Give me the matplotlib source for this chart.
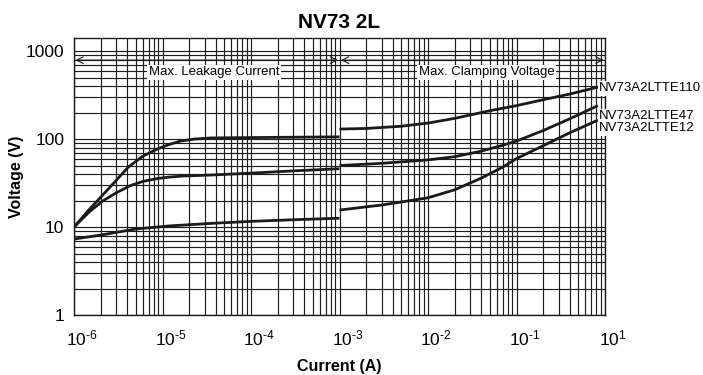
import matplotlib
matplotlib.use("Agg")
import matplotlib.pyplot as plt
import matplotlib.transforms as mtransforms

plt.rcParams['font.family'] = ['Liberation Sans', 'DejaVu Sans']
plt.rcParams['mathtext.fontset'] = 'custom'
plt.rcParams['mathtext.rm'] = 'Liberation Sans'
plt.rcParams['mathtext.it'] = 'Liberation Sans:italic'
plt.rcParams['mathtext.bf'] = 'Liberation Sans:bold'

# Data (current in A, voltage in V)
series_names = ['NV73A2LTTE110', 'NV73A2LTTE47', 'NV73A2LTTE12']

# leakage region (1 uA .. 1 mA)
i_leak_110 = [1e-6, 1.5e-6, 2.1e-6, 3e-6, 4.1e-6, 6e-6, 8.9e-6, 1.2e-5, 1.6e-5,
              2.3e-5, 3.5e-5, 1e-4, 3e-4, 1e-3]
v_leak_110 = [10, 16, 23, 34, 48, 64, 78, 87, 95, 100, 103, 104, 105, 106]
i_leak_47 = [1e-6, 1.5e-6, 2.1e-6, 3e-6, 4.3e-6, 6e-6, 8.9e-6, 1.2e-5, 1.7e-5,
             3.5e-5, 1e-4, 3e-4, 1e-3]
v_leak_47 = [10, 15, 19.7, 24.5, 29.5, 33, 35.7, 37, 38, 39, 41, 43.5, 46]
i_leak_12 = [1e-6, 2e-6, 5e-6, 1.2e-5, 3.5e-5, 1e-4, 3e-4, 1e-3]
v_leak_12 = [7.3, 8.1, 9.5, 10.3, 11.0, 11.6, 12.1, 12.6]

# clamping region (1 mA .. ~1 A)
i_clamp_110 = [1e-3, 2e-3, 5e-3, 1e-2, 2e-2, 5e-2, 1e-1, 2e-1, 4e-1, 8.3e-1]
v_clamp_110 = [130, 132, 140, 152, 172, 210, 240, 280, 325, 390]
i_clamp_47 = [1e-3, 3e-3, 1e-2, 2e-2, 4e-2, 7e-2, 1e-1, 2e-1, 4e-1, 8.3e-1]
v_clamp_47 = [50, 53, 58, 63, 73, 85, 95, 125, 170, 240]
i_clamp_12 = [1e-3, 3e-3, 1e-2, 2e-2, 4e-2, 7e-2, 1e-1, 2e-1, 4e-1, 8.3e-1]
v_clamp_12 = [15.6, 17.8, 21.5, 26.5, 36, 48, 60, 84, 118, 164]

x_ticks = [1e-6, 1e-5, 1e-4, 1e-3, 1e-2, 1e-1, 1e0]
x_ticklabels = ['$10^{‐6}$', '$10^{‐5}$', '$10^{‐4}$', '$10^{‐3}$',
                '$10^{‐2}$', '$10^{‐1}$', '$10^{1}$']
y_ticks = [1, 10, 100, 1000]
y_ticklabels = ['1', '10', '100', '1000']

fig = plt.figure(figsize=(7.03, 3.75), dpi=100)
ax = fig.add_axes([0.1053, 0.16, 0.7553, 0.7387])
ax.set_xscale('log')
ax.set_yscale('log')
ax.set_xlim(1e-6, 1e0)
ax.set_ylim(1, 1410)

ax.grid(True, which='both', color='#1e1e1e', linewidth=0.85)
ax.set_axisbelow(True)

leak = [(i_leak_110, v_leak_110), (i_leak_47, v_leak_47), (i_leak_12, v_leak_12)]
clamp = [(i_clamp_110, v_clamp_110), (i_clamp_47, v_clamp_47), (i_clamp_12, v_clamp_12)]
for (il, vl), (ic, vc) in zip(leak, clamp):
    ax.plot(il, vl, color='#1a1a1a', lw=2.0, solid_capstyle='butt',
            solid_joinstyle='round', zorder=3)
    ax.plot(ic, vc, color='#1a1a1a', lw=2.0, solid_capstyle='butt',
            solid_joinstyle='round', zorder=3)

# region arrows and labels
arrow_kw = dict(arrowstyle='<->', lw=0.8, color='#1a1a1a', shrinkA=1, shrinkB=1,
                mutation_scale=12)
ax.annotate('', xy=(1e-6, 790), xytext=(1e-3, 790), arrowprops=arrow_kw, zorder=4)
ax.annotate('', xy=(1e-3, 790), xytext=(1e0, 790), arrowprops=arrow_kw, zorder=4)
box = dict(facecolor='white', edgecolor='none', pad=1.0)
ax.text(3.8e-5, 576, 'Max. Leakage Current', fontsize=9.5, ha='center', va='center',
        bbox=box, zorder=5)
ax.text(4.6e-2, 576, 'Max. Clamping Voltage', fontsize=9.5, ha='center', va='center',
        bbox=box, zorder=5)

# series labels at the right
label_v = [380, 182, 133]
for name, v in zip(series_names, label_v):
    ax.text(0.855, v, name, fontsize=9.5, ha='left', va='center', bbox=box,
            zorder=5, clip_on=False)

ax.set_xticks(x_ticks)
ax.set_xticklabels(x_ticklabels, fontsize=12.5)
ax.set_yticks(y_ticks)
ax.set_yticklabels(y_ticklabels, fontsize=12.5)
ax.tick_params(which='both', length=0)
ax.tick_params(axis='x', pad=10)
ax.tick_params(axis='y', pad=7)

offset = mtransforms.ScaledTranslation(8 / 100, 0, fig.dpi_scale_trans)
for lab in ax.get_xticklabels():
    lab.set_transform(lab.get_transform() + offset)

for sp in ax.spines.values():
    sp.set_color('#1a1a1a')
    sp.set_linewidth(1.0)

ax.set_xlabel('Current (A)', fontsize=11.5, fontweight='bold', labelpad=7)
ax.set_ylabel('Voltage (V)', fontsize=11.5, fontweight='bold', labelpad=1)
ax.set_title('NV73 2L', fontsize=15, fontweight='bold', pad=7)

fig.savefig('out.png', dpi=100, facecolor='white')
